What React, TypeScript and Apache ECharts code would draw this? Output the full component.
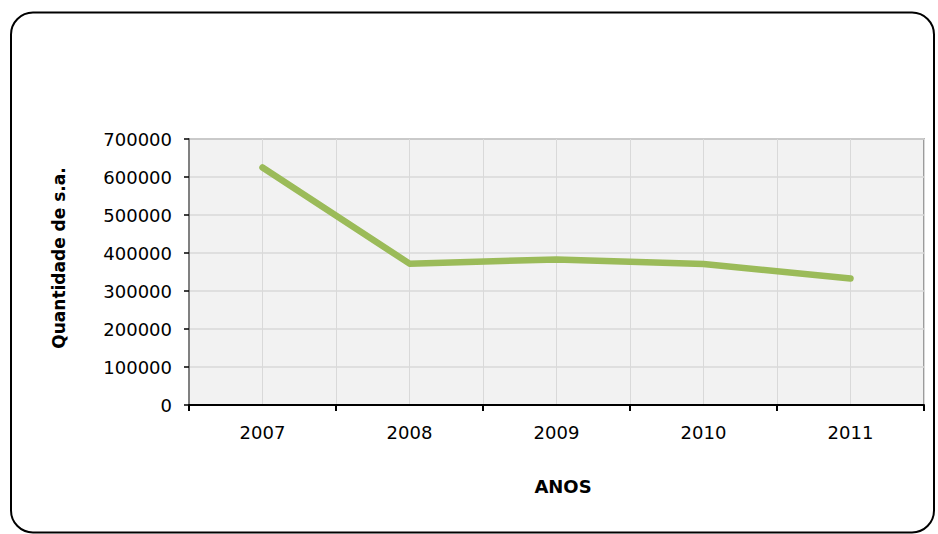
import React, { useEffect, useRef } from "react";
import * as echarts from "echarts";

const categories = ["2007", "2008", "2009", "2010", "2011"];
const values = [625000, 372000, 383000, 371000, 333000];
const yTitle = "Quantidade de s.a.";
const xTitle = "ANOS";

export default function App() {
  const ref = useRef<HTMLDivElement>(null);
  useEffect(() => {
    document.body.style.margin = "0";
    const chart = echarts.init(ref.current!, null, { renderer: "svg" });
    const font = "DejaVu Sans";
    chart.setOption({
      animation: false,
      backgroundColor: "#ffffff",
      grid: {
        left: 189,
        right: 14,
        top: 139,
        bottom: 129,
        show: true,
        backgroundColor: "#f2f2f2",
        borderColor: "#808080",
        borderWidth: 1.5,
      },
      xAxis: [
        {
          type: "category",
          data: categories,
          boundaryGap: true,
          axisLine: { show: true, lineStyle: { color: "#000", width: 2 } },
          axisTick: { show: true, length: 6, lineStyle: { color: "#000", width: 2 } },
          axisLabel: { color: "#000", fontFamily: font, fontSize: 18, margin: 18 },
          splitLine: { show: false },
          z: 5,
        },
        {
          type: "value",
          min: 0,
          max: 10,
          interval: 1,
          position: "bottom",
          axisLine: { show: false },
          axisTick: { show: false },
          axisLabel: { show: false },
          splitLine: { show: true, lineStyle: { color: "#d9d9d9", width: 1 } },
        },
      ],
      yAxis: {
        type: "value",
        min: 0,
        max: 700000,
        interval: 100000,
        axisLine: { show: true, lineStyle: { color: "#808080", width: 2 } },
        axisTick: { show: true, length: 5, lineStyle: { color: "#000", width: 1.5 } },
        axisLabel: {
          color: "#000",
          fontFamily: font,
          fontSize: 18,
          margin: 17,
          formatter: (v: number) => String(v),
        },
        splitLine: { show: true, lineStyle: { color: "#d9d9d9", width: 1.5 } },
      },
      series: [
        {
          type: "line",
          xAxisIndex: 0,
          data: values,
          showSymbol: false,
          symbol: "none",
          lineStyle: { color: "#9bbb59", width: 6.5, cap: "round", join: "round" },
          z: 10,
        },
      ],
      graphic: [
        {
          type: "rect",
          shape: { x: 11, y: 12.5, width: 923, height: 520, r: 22 },
          style: { fill: "none", stroke: "#000", lineWidth: 2 },
          silent: true,
        },
        {
          type: "text",
          x: 59,
          y: 258,
          rotation: Math.PI / 2,
          style: {
            text: yTitle,
            fontFamily: font,
            fontWeight: "bold",
            fontSize: 17,
            fill: "#000",
            align: "center",
            verticalAlign: "middle",
          },
        },
        {
          type: "text",
          x: 563,
          y: 486,
          style: {
            text: xTitle,
            fontFamily: font,
            fontWeight: "bold",
            fontSize: 18,
            fill: "#000",
            align: "center",
            verticalAlign: "middle",
          },
        },
      ],
    });
    return () => chart.dispose();
  }, []);
  return <div ref={ref} style={{ width: 938, height: 534 }} />;
}
